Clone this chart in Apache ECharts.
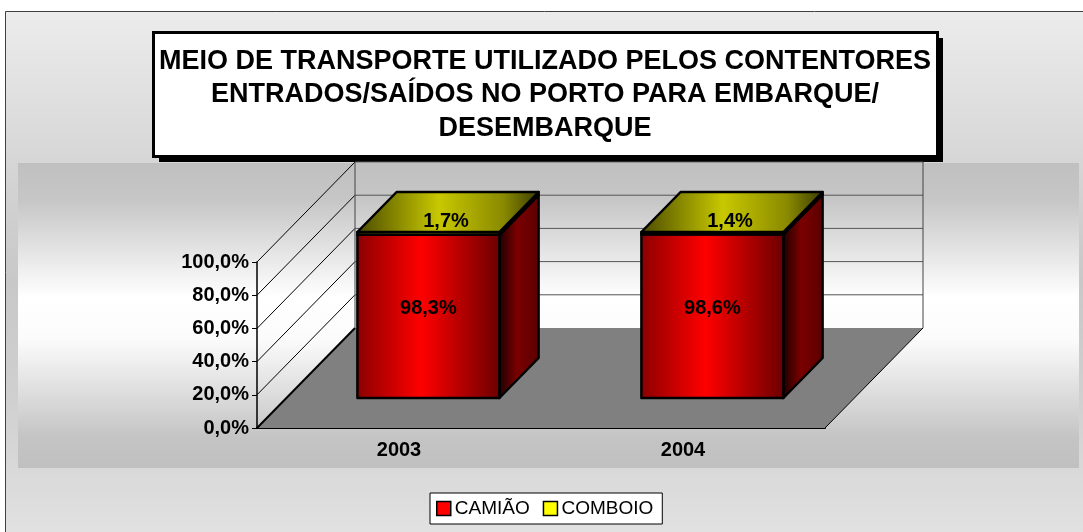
<!DOCTYPE html>
<html>
<head>
<meta charset="utf-8">
<script src="https://cdn.jsdelivr.net/npm/echarts@6/dist/echarts.min.js"></script>
<style>
  html, body { margin: 0; padding: 0; background: #fff; }
  #chart { width: 1083px; height: 532px; }
</style>
</head>
<body>
<div id="chart"></div>
<script>
const years = ['2003', '2004'];
const camiao = [98.3, 98.6];
const comboio = [1.7, 1.4];
const yTicks = [0, 20, 40, 60, 80, 100];
const titleLines = ['MEIO DE TRANSPORTE UTILIZADO PELOS CONTENTORES', 'ENTRADOS/SAÍDOS NO PORTO PARA EMBARQUE/', 'DESEMBARQUE'];

const FONT = '"Liberation Sans", Arial, sans-serif';
// depth of the 3d box, in px
const DX = 98, DY = -100;
const FRONT = 0.3, BACK = 0.7;

function pct(v) {
  return v.toFixed(1).replace('.', ',') + '%';
}

function grad(stops) {
  return new echarts.graphic.LinearGradient(0, 0, 1, 0, stops);
}

const faces = {
  'CAMIÃO': {
    front: grad([{offset: 0, color: '#8a0000'}, {offset: 0.45, color: '#ff0000'}, {offset: 1, color: '#6a0000'}]),
    side: grad([{offset: 0, color: '#1a0000'}, {offset: 0.45, color: '#7a0000'}, {offset: 1, color: '#5a0000'}]),
    top: grad([{offset: 0, color: '#8a0000'}, {offset: 0.45, color: '#ff0000'}, {offset: 1, color: '#6a0000'}])
  },
  'COMBOIO': {
    front: grad([{offset: 0, color: '#808000'}, {offset: 0.45, color: '#ffff00'}, {offset: 1, color: '#606000'}]),
    side: grad([{offset: 0, color: '#1a1a00'}, {offset: 0.45, color: '#707000'}, {offset: 1, color: '#505000'}]),
    top: grad([{offset: 0, color: '#4a4a00'}, {offset: 0.45, color: '#c8c800'}, {offset: 0.8, color: '#8a8a00'}, {offset: 1, color: '#3a3a00'}])
  }
};

// stack: [catIndex, start, end]
const camiaoData = camiao.map((v, i) => [i, 0, v]);
const comboioData = comboio.map((v, i) => [i, camiao[i], camiao[i] + v]);

function renderFrame(params, api) {
  const half = api.size([1, 0])[0] / 2;
  const p0 = api.coord([0, 0]);
  const x0 = p0[0] - half;
  const x1 = api.coord([years.length - 1, 0])[0] + half;
  const y0 = p0[1];
  const yTop = api.coord([0, 100])[1];
  const children = [];
  children.push({
    type: 'polygon',
    shape: {points: [[x0, y0], [x1, y0], [x1 + DX, y0 + DY], [x0 + DX, y0 + DY]]},
    style: {fill: '#808080'}
  });
  yTicks.forEach(function (v) {
    const y = api.coord([0, v])[1];
    children.push({
      type: 'line',
      shape: {x1: x0, y1: y, x2: x0 + DX, y2: y + DY},
      style: {stroke: '#000', lineWidth: v === 0 ? 2 : 1}
    });
    if (v > 0) {
      children.push({
        type: 'line',
        shape: {x1: x0 + DX, y1: y + DY, x2: x1 + DX, y2: y + DY},
        style: {stroke: '#555', lineWidth: 1}
      });
    }
  });
  children.push({
    type: 'line',
    shape: {x1: x0 + DX, y1: yTop + DY, x2: x0 + DX, y2: y0 + DY},
    style: {stroke: '#444', lineWidth: 1}
  });
  children.push({
    type: 'line',
    shape: {x1: x1 + DX, y1: yTop + DY, x2: x1 + DX, y2: y0 + DY},
    style: {stroke: '#444', lineWidth: 1}
  });
  children.push({
    type: 'line',
    shape: {x1: x1, y1: y0, x2: x1 + DX, y2: y0 + DY},
    style: {stroke: '#000', lineWidth: 1}
  });
  return {type: 'group', children: children};
}

function makeBarRenderer(name, labelOnTop) {
  return function (params, api) {
    const cat = api.value(0);
    const c = api.coord([cat, 0]);
    const bw = api.size([1, 0])[0] * 0.5;
    const yb = api.coord([cat, api.value(1)])[1];
    const yt = api.coord([cat, api.value(2)])[1];
    const fx = FRONT * DX, fy = FRONT * DY, bx = BACK * DX, by = BACK * DY;
    const xl = c[0] - bw / 2, xr = c[0] + bw / 2;
    const f = faces[name];
    const line = {stroke: '#000', lineWidth: 2.5, lineJoin: 'round'};
    const value = api.value(2) - api.value(1);
    const children = [
      {
        type: 'polygon',
        shape: {points: [[xr + fx, yt + fy], [xr + bx, yt + by], [xr + bx, yb + by], [xr + fx, yb + fy]]},
        style: Object.assign({fill: f.side}, line)
      },
      {
        type: 'rect',
        shape: {x: xl + fx, y: yt + fy, width: bw, height: yb - yt},
        style: Object.assign({fill: f.front}, line)
      },
      {
        type: 'polygon',
        shape: {points: [[xl + fx, yt + fy], [xr + fx, yt + fy], [xr + bx, yt + by], [xl + bx, yt + by]]},
        style: Object.assign({fill: f.top}, line)
      }
    ];
    const lx = labelOnTop ? c[0] + (fx + bx) / 2 - 2 : c[0] + fx;
    const ly = labelOnTop ? yt + fy - 11 : (yt + yb) / 2 + fy - 8;
    children.push({
      type: 'text',
      style: {
        text: pct(value), x: lx, y: ly, align: 'center', verticalAlign: 'middle',
        fill: '#000', font: 'bold 20px ' + FONT
      }
    });
    return {type: 'group', children: children};
  };
}

const chart = echarts.init(document.getElementById('chart'), null, {renderer: 'canvas'});

const option = {
  animation: false,
  textStyle: {fontFamily: FONT},
  graphic: [
    {
      type: 'rect', z: -10, silent: true,
      shape: {x: 5.5, y: 11.5, width: 1100, height: 600},
      style: {
        stroke: '#404040', lineWidth: 1,
        fill: new echarts.graphic.LinearGradient(0, 0, 0, 1, [
          {offset: 0, color: '#ececec'}, {offset: 0.3, color: '#d2d2d2'},
          {offset: 0.45, color: '#c8c8c8'}, {offset: 0.65, color: '#d0d0d0'},
          {offset: 0.88, color: '#e2e2e2'}, {offset: 1, color: '#e6e6e6'}
        ])
      }
    },
    {
      type: 'rect', z: -9, silent: true,
      shape: {x: 18, y: 163, width: 1061, height: 305},
      style: {
        fill: new echarts.graphic.LinearGradient(0, 0, 0, 1, [
          {offset: 0, color: '#c0c0c0'}, {offset: 0.12, color: '#c6c6c6'},
          {offset: 0.44, color: '#ffffff'}, {offset: 0.58, color: '#fbfbfb'},
          {offset: 0.9, color: '#c4c4c4'}, {offset: 1, color: '#c0c0c0'}
        ])
      }
    },
    {
      type: 'group', z: 10,
      children: [
        {type: 'rect', shape: {x: 159, y: 38, width: 784, height: 124}, style: {fill: '#000'}},
        {type: 'rect', shape: {x: 153.5, y: 32.5, width: 784, height: 124}, style: {fill: '#fff', stroke: '#000', lineWidth: 3}},
        {
          type: 'text',
          style: {
            text: titleLines.join('\n'), x: 545, y: 95, align: 'center', verticalAlign: 'middle',
            font: 'bold 27px ' + FONT, lineHeight: 33.5, fill: '#000'
          }
        }
      ]
    }
  ],
  legend: {
    left: 430, top: 493,
    orient: 'horizontal',
    icon: 'rect',
    itemWidth: 14, itemHeight: 14, itemGap: 13,
    padding: [6, 9, 6, 6],
    backgroundColor: '#fff',
    borderColor: '#000', borderWidth: 1,
    textStyle: {fontFamily: FONT, fontSize: 19, color: '#000', padding: [0, 0, 0, -1]},
    data: [
      {name: 'CAMIÃO', itemStyle: {color: '#ff0000', borderColor: '#000', borderWidth: 1.5}},
      {name: 'COMBOIO', itemStyle: {color: '#ffff00', borderColor: '#000', borderWidth: 1.5}}
    ]
  },
  grid: {left: 257, right: 258, top: 262, bottom: 104},
  xAxis: {
    type: 'category',
    data: years,
    axisLine: {lineStyle: {color: '#000', width: 2}},
    axisTick: {length: 5, lineStyle: {color: '#000'}},
    axisLabel: {color: '#000', fontWeight: 'bold', fontSize: 20, margin: 12, fontFamily: FONT},
    splitLine: {show: false}
  },
  yAxis: {
    type: 'value',
    min: 0, max: 100, interval: 20,
    axisLine: {show: true, lineStyle: {color: '#000', width: 1.5}},
    axisTick: {show: true, length: 5, lineStyle: {color: '#000'}},
    axisLabel: {color: '#000', fontWeight: 'bold', fontSize: 20, margin: 8, fontFamily: FONT, formatter: pct},
    splitLine: {show: false}
  },
  series: [
    {
      type: 'custom', name: 'frame', z: 1, silent: true, clip: false,
      renderItem: renderFrame,
      data: [[0, 0]]
    },
    {
      type: 'custom', name: 'CAMIÃO', z: 3, clip: false,
      itemStyle: {color: '#ff0000'},
      renderItem: makeBarRenderer('CAMIÃO', false),
      encode: {x: 0, y: 2},
      data: camiaoData
    },
    {
      type: 'custom', name: 'COMBOIO', z: 4, clip: false,
      itemStyle: {color: '#ffff00'},
      renderItem: makeBarRenderer('COMBOIO', true),
      encode: {x: 0, y: 2},
      data: comboioData
    }
  ]
};

chart.setOption(option);
</script>
</body>
</html>
